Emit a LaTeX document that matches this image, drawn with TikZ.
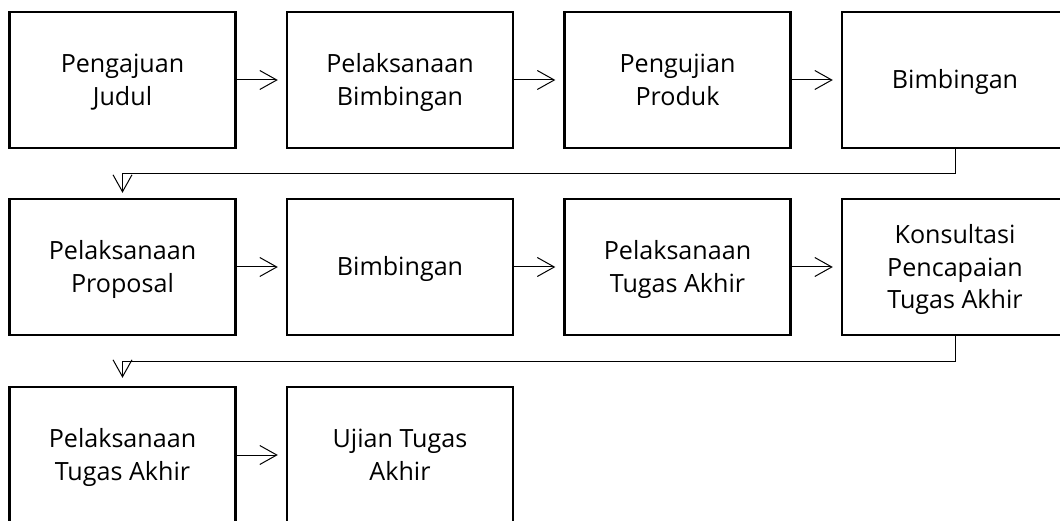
\documentclass[tikz,border=0pt]{standalone}
\usepackage{fontspec}
\setmainfont{Open Sans}
\usetikzlibrary{arrows.meta}
\newcommand\mystrut{\rule[-7.15pt]{0pt}{32.3pt}}
\tikzset{
  stepbox/.style={draw=black, line width=2.4pt, minimum width=226pt, minimum height=136pt,
    inner sep=0pt, align=center, font=\fontsize{25.1}{32.3}\selectfont},
  flow/.style={draw=black, line width=1pt, -{Straight Barb[length=17pt,width=19pt]}},
}
\begin{document}
\begin{tikzpicture}[x=1pt,y=-1pt]
\useasboundingbox (0,0) rectangle (1060,521);
\clip (0,0) rectangle (1060,521);
% row 1
\node[stepbox] (b1) at (122.5,80) {\mystrut Pengajuan\\\mystrut Judul};
\node[stepbox] (b2) at (400,80) {\mystrut Pelaksanaan\\\mystrut Bimbingan};
\node[stepbox] (b3) at (677.5,80) {\mystrut Pengujian\\\mystrut Produk};
\node[stepbox] (b4) at (955,80) {\mystrut Bimbingan};
% row 2
\node[stepbox] (b5) at (122.5,267) {\mystrut Pelaksanaan\\\mystrut Proposal};
\node[stepbox] (b6) at (400,267) {\mystrut Bimbingan};
\node[stepbox] (b7) at (677.5,267) {\mystrut Pelaksanaan\\\mystrut Tugas Akhir};
\node[stepbox] (b8) at (955,267) {\mystrut Konsultasi\\\mystrut Pencapaian\\\mystrut Tugas Akhir};
% row 3
\node[stepbox] (b9) at (122.5,455) {\mystrut Pelaksanaan\\\mystrut Tugas Akhir};
\node[stepbox] (b10) at (400,455) {\mystrut Ujian Tugas\\\mystrut Akhir};
% connectors
\draw[flow, shorten >=8pt] (b1.east) -- (b2.west);
\draw[flow, shorten >=8pt] (b2.east) -- (b3.west);
\draw[flow, shorten >=8pt] (b3.east) -- (b4.west);
\draw[flow, shorten >=8pt] (b5.east) -- (b6.west);
\draw[flow, shorten >=8pt] (b6.east) -- (b7.west);
\draw[flow, shorten >=8pt] (b7.east) -- (b8.west);
\draw[flow, shorten >=8pt] (b9.east) -- (b10.west);
\coordinate (k1) at (955,174);
\coordinate (k2) at (955,361);
\draw[flow, shorten >=5pt] (b4.south) -- (k1) -| (b5.north);
\draw[flow, shorten >=8pt] (b8.south) -- (k2) -| (b9.north);
\end{tikzpicture}
\end{document}
